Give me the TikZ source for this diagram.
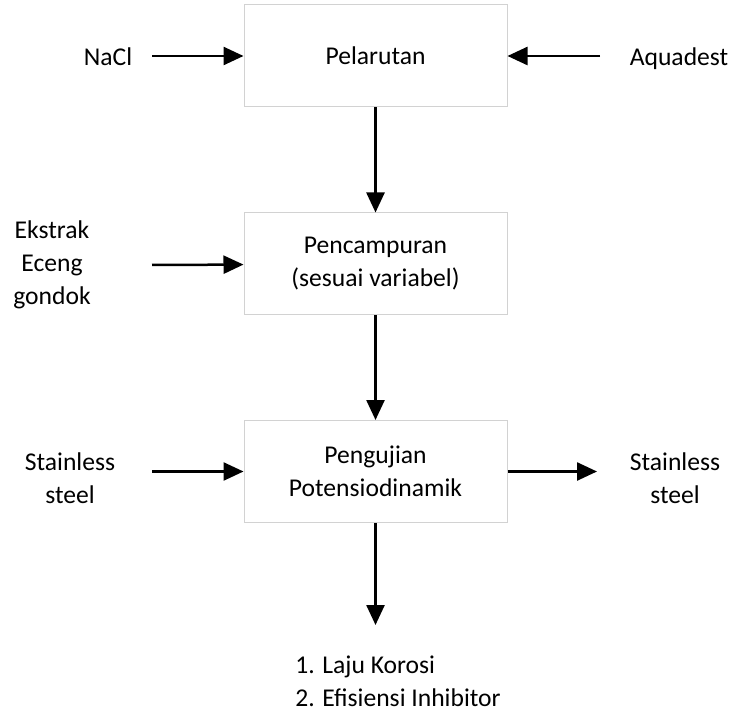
\documentclass[tikz,border=0pt]{standalone}
\usepackage{fontspec}
\setmainfont{Carlito}
\usetikzlibrary{arrows.meta}
\begin{document}
\begin{tikzpicture}[x=0.5pt,y=-0.5pt,thick]
  \tikzstyle{process}=[draw=gray!35,line width=0.5pt,minimum width=131.5pt,minimum height=51pt,inner sep=0pt,align=center,font=\fontsize{12.8}{16.5}\selectfont]
  \tikzstyle{material}=[align=center,inner sep=0pt,font=\fontsize{12.8}{16.5}\selectfont]
  \tikzstyle{word}=[material,text height=8.2pt,text depth=0pt]
  \tikzstyle{flow}=[-{Triangle[length=10pt,width=9pt]},line width=1.25pt]
  \useasboundingbox (0,0) rectangle (731,710);
  % process steps
  \node[process] (larut) at (375.5,56) {Pelarutan};
  \node[process] (campur) at (375.5,264) {Pencampuran\\(sesuai variabel)};
  \node[process] (uji) at (375.5,471.5) {Pengujian\\Potensiodinamik};
  % materials in and out
  \node[word] (nacl) at (108,57) {NaCl};
  \node[word] (aqua) at (679,57) {Aquadest};
  \node[material] (eceng) at (52,265) {Ekstrak\\Eceng\\gondok};
  \node[material] (ssin) at (70,478) {Stainless\\steel};
  \node[material] (ssout) at (675,478) {Stainless\\steel};
  \node[material,align=left] (hasil) at (398,681) {1. Laju Korosi\\2. Efisiensi Inhibitor};
  % arrow tails
  \coordinate (tnacl) at (152,56);
  \coordinate (taqua) at (600,56);
  \coordinate (teceng) at (152,265);
  \coordinate (tssin) at (152,471.5);
  \coordinate (tssout) at (597,471.5);
  \coordinate (thasil) at (375.5,625);
  \foreach \from/\to in {tnacl/larut,taqua/larut,teceng/campur,tssin/uji,larut/campur,campur/uji}
    \draw[flow] (\from) -- (\to);
  \draw[flow] (uji) -- (tssout);
  \draw[flow] (uji) -- (thasil);
\end{tikzpicture}
\end{document}
